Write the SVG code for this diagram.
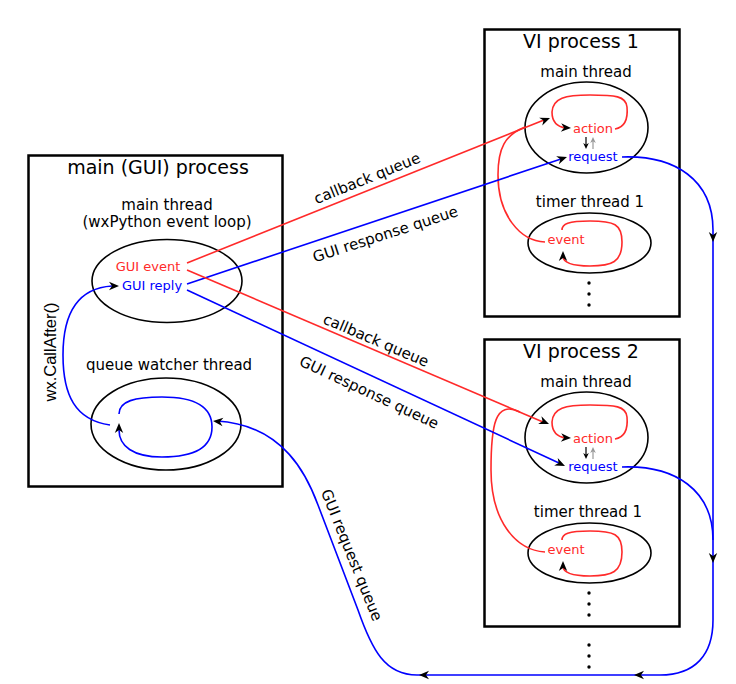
<svg xmlns="http://www.w3.org/2000/svg" xmlns:xlink="http://www.w3.org/1999/xlink" width="736" height="684" viewBox="0 0 736 684">
<style>
text{font-family:"DejaVu Sans","Liberation Sans",sans-serif;}
.box{fill:none;stroke:#000;stroke-width:2.5;}
.ell{fill:none;stroke:#000;stroke-width:1.6;}
.title{font-size:19px;text-anchor:middle;}
.lbl{font-size:15px;text-anchor:middle;}
.red{fill:#ff2a2a;font-size:13px;text-anchor:middle;}
.blue{fill:#0000ff;font-size:13px;text-anchor:middle;}
.r{fill:none;stroke:#ff2a2a;stroke-width:1.6;}
.b{fill:none;stroke:#0000ff;stroke-width:1.6;}
.k{fill:none;stroke:#000;stroke-width:1.2;}
.g{fill:none;stroke:#999;stroke-width:1.2;}
.dot{fill:#000;}
</style>
<defs>
<path id="ah" d="M0,0 L-10,-4.2 L-7,0 L-10,4.2 Z" fill="#000"/>
<path id="ahs" d="M0,0 L-6,-2.8 L-4.3,0 L-6,2.8 Z"/>
</defs>

<g id="main-process">
<rect class="box" x="28.5" y="155.5" width="254" height="331"/>
<text class="title" x="158" y="174">main (GUI) process</text>
</g>
<g id="gui-main-thread">
<text class="lbl" x="167" y="210">main thread</text>
<text class="lbl" x="167" y="227">(wxPython event loop)</text>
<ellipse class="ell" cx="167" cy="281" rx="75" ry="41.5"/>
<text class="red" x="148" y="271">GUI event</text>
<text class="blue" x="152" y="290">GUI reply</text>
</g>
<g id="queue-watcher-thread">
<text class="lbl" x="169" y="370">queue watcher thread</text>
<ellipse class="ell" cx="166" cy="424" rx="75" ry="46"/>
<path class="b" d="M119,414 C119,401 135,397 162,397 C195,397 212,407 212,427 C212,447 195,457 162,457 C133,457 119,446 119,430"/>
<use href="#ah" transform="translate(119,423) rotate(-90)"/>
</g>

<g id="vi-process-1">
<rect class="box" x="484.5" y="29.5" width="195" height="287"/>
<text class="title" x="581" y="48">VI process 1</text>
</g>
<g id="vi1-main-thread">
<text class="lbl" x="586" y="77">main thread</text>
<ellipse class="ell" cx="586.5" cy="127.5" rx="61.5" ry="45.5"/>
<text class="red" x="593" y="133">action</text>
<text class="blue" x="593" y="161">request</text>
<path class="r" d="M615,129 C626,127 628,118 627,107 C626,96 615,95 590,95 C565,95 553,98 552,112 C552,122 558,127 566,128"/>
<use href="#ah" transform="translate(571,128) rotate(3)"/>
<path class="k" d="M586,137 L586,146"/>
<use href="#ahs" fill="#000" transform="translate(586,149) rotate(90)"/>
<path class="g" d="M593,149 L593,140"/>
<use href="#ahs" fill="#999" transform="translate(593,137) rotate(-90)"/>
</g>
<g id="vi1-timer-thread">
<text class="lbl" x="590" y="207">timer thread 1</text>
<ellipse class="ell" cx="589.5" cy="243" rx="61.5" ry="30"/>
<text class="red" x="566" y="244">event</text>
<path class="r" d="M562,230 C562,224 568,221 590,221 C614,221 622,224 622,242 C622,262 612,266 590,266 C570,266 563,262 563,256"/>
<use href="#ah" transform="translate(563,251) rotate(-90)"/>
<circle class="dot" cx="589" cy="283" r="1.7"/>
<circle class="dot" cx="589" cy="294" r="1.7"/>
<circle class="dot" cx="589" cy="305" r="1.7"/>
</g>

<g id="vi-process-2">
<rect class="box" x="484.5" y="339.5" width="195" height="287"/>
<text class="title" x="581" y="358">VI process 2</text>
</g>
<g id="vi2-main-thread">
<text class="lbl" x="586" y="387">main thread</text>
<ellipse class="ell" cx="586.5" cy="437.5" rx="61.5" ry="45.5"/>
<text class="red" x="593" y="443">action</text>
<text class="blue" x="593" y="471">request</text>
<path class="r" d="M615,439 C626,437 628,428 627,417 C626,406 615,405 590,405 C565,405 553,408 552,422 C552,432 558,437 566,438"/>
<use href="#ah" transform="translate(571,438) rotate(3)"/>
<path class="k" d="M586,447 L586,456"/>
<use href="#ahs" fill="#000" transform="translate(586,459) rotate(90)"/>
<path class="g" d="M593,459 L593,450"/>
<use href="#ahs" fill="#999" transform="translate(593,447) rotate(-90)"/>
</g>
<g id="vi2-timer-thread">
<text class="lbl" x="588" y="517">timer thread 1</text>
<ellipse class="ell" cx="589.5" cy="553" rx="61.5" ry="30"/>
<text class="red" x="566" y="554">event</text>
<path class="r" d="M562,540 C562,534 568,531 590,531 C614,531 622,534 622,552 C622,572 612,576 590,576 C570,576 563,572 563,566"/>
<use href="#ah" transform="translate(563,561) rotate(-90)"/>
<circle class="dot" cx="589" cy="593" r="1.7"/>
<circle class="dot" cx="589" cy="604" r="1.7"/>
<circle class="dot" cx="589" cy="615" r="1.7"/>
</g>

<g id="more-processes">
<circle class="dot" cx="589" cy="645" r="1.7"/>
<circle class="dot" cx="589" cy="656" r="1.7"/>
<circle class="dot" cx="589" cy="667" r="1.7"/>
</g>

<g id="connectors">
<!-- to VI 1 -->
<path class="r" d="M187,263 L544,120"/>
<use href="#ah" transform="translate(550,118) rotate(-21.8)"/>
<path class="r" d="M545,242 C520,241 498,215 498,175 C498,148 505,135 525,127"/>
<path class="b" d="M187,284 L561,159"/>
<use href="#ah" transform="translate(567,157) rotate(-18.5)"/>
<text class="lbl" transform="translate(369,183) rotate(-22)">callback queue</text>
<text class="lbl" transform="translate(387,239) rotate(-18)">GUI response queue</text>
<!-- to VI 2 -->
<path class="r" d="M187,270 L543,422"/>
<use href="#ah" transform="translate(549,424) rotate(23)"/>
<path class="r" d="M545,552 C515,550 491,520 491,470 C491,425 495,400 520,412"/>
<path class="b" d="M187,290 L559,463"/>
<use href="#ah" transform="translate(565,466) rotate(25)"/>
<text class="lbl" transform="translate(374,345) rotate(23)">callback queue</text>
<text class="lbl" transform="translate(367,397) rotate(25)">GUI response queue</text>
<!-- request queue -->
<path class="b" d="M622,157 C675,155 713,180 713,230"/>
<path class="b" d="M622,467 C675,465 713,490 713,540"/>
<path class="b" d="M713,230 L713,620 C713,655 695,675 660,675 L417,675 C385,675 372,650 358,610 L318,505 C308,478 285,425 217,421"/>
<use href="#ah" transform="translate(713,242) rotate(90)"/>
<use href="#ah" transform="translate(713,563) rotate(90)"/>
<use href="#ah" transform="translate(634,675) rotate(180)"/>
<use href="#ah" transform="translate(419,675) rotate(180)"/>
<use href="#ah" transform="translate(213,421) rotate(186)"/>
<text class="lbl" transform="translate(347,557) rotate(68)">GUI request queue</text>
<!-- wx.CallAfter -->
<path class="b" d="M110,425 C75,420 63,395 63,355 C63,310 80,288 112,286"/>
<use href="#ah" transform="translate(119,286) rotate(0)"/>
<text style="font-family:'Liberation Sans',Arial,sans-serif;font-size:16.5px;text-anchor:middle" transform="translate(56,352) rotate(-90)">wx.CallAfter()</text>
</g>
</svg>
